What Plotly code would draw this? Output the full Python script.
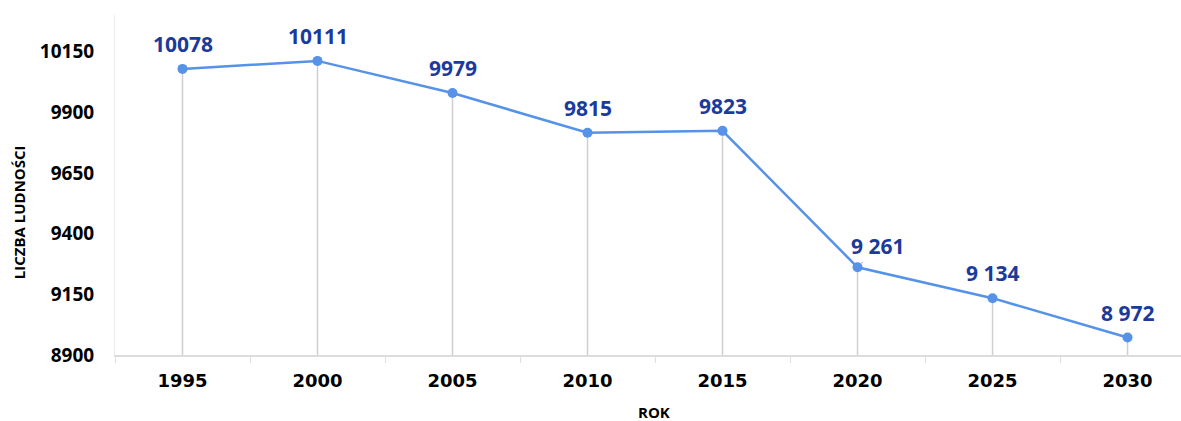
import plotly.graph_objects as go

years = ["1995", "2000", "2005", "2010", "2015", "2020", "2025", "2030"]
population = [10078, 10111, 9979, 9815, 9823, 9261, 9134, 8972]
labels = ["10078", "10111", "9979", "9815", "9823", "9 261", "9 134", "8 972"]
y_ticks = [8900, 9150, 9400, 9650, 9900, 10150]
y_min, y_max = 8900, 10300

line_color = "#5592e8"
label_color = "#1c3a9c"

fig = go.Figure()
fig.add_trace(go.Scatter(
    x=years, y=population, mode="lines+markers",
    line=dict(color=line_color, width=2.5),
    marker=dict(color=line_color, size=10),
    error_y=dict(type="data", symmetric=False,
                 array=[0] * len(population),
                 arrayminus=[v - y_min for v in population],
                 color="#cfcfcf", thickness=1.5, width=0),
    hoverinfo="skip", showlegend=False,
))

lab_font = dict(family="Open Sans", size=21, color=label_color, weight="bold")
annotations = []
for i, (yr, v, lab) in enumerate(zip(years, population, labels)):
    if yr == "2020":
        annotations.append(dict(x=i, y=v, text=lab, showarrow=True, arrowhead=0,
                                arrowwidth=1, arrowcolor="#999999", ax=20, ay=-21, standoff=5,
                                font=lab_font))
    else:
        annotations.append(dict(x=i, y=v, text=lab, showarrow=False, yshift=25,
                                font=lab_font))

annotations.append(dict(xref="paper", yref="paper", x=-0.09, y=0.42, text="LICZBA LUDNOŚCI",
                        textangle=-90, showarrow=False, xanchor="center", yanchor="middle",
                        font=dict(family="Open Sans", size=15, color="black", weight="bold")))
annotations.append(dict(xref="paper", yref="paper", x=0.506, y=-0.168, text="ROK",
                        showarrow=False, xanchor="center", yanchor="middle",
                        font=dict(family="Open Sans", size=15, color="black", weight="bold")))

fig.update_layout(
    width=1181, height=421,
    margin=dict(l=115, r=0, t=15, b=66, autoexpand=False),
    paper_bgcolor="white", plot_bgcolor="white",
    annotations=annotations,
    xaxis=dict(type="category", range=[-0.5, 7.396], showgrid=False, automargin=False,
               showline=True, linecolor="#dcdcdc", linewidth=1.5,
               ticks="outside", tickson="boundaries", ticklen=6, tickcolor="#e0e0e0",
               ticklabelstandoff=9,
               tickfont=dict(family="DejaVu Sans", size=18, color="black", weight="bold")),
    yaxis=dict(range=[y_min, y_max], tickvals=y_ticks, tickformat="d", showgrid=False,
               automargin=False,
               showline=True, linecolor="#ececec", linewidth=1, zeroline=False,
               ticks="", ticklabelstandoff=16,
               tickfont=dict(family="Open Sans", size=19, color="black", weight="bold")),
)

fig.write_html("out.html", config={"displayModeBar": False},
               post_script="document.body.style.margin='0';document.body.style.overflow='hidden';")
